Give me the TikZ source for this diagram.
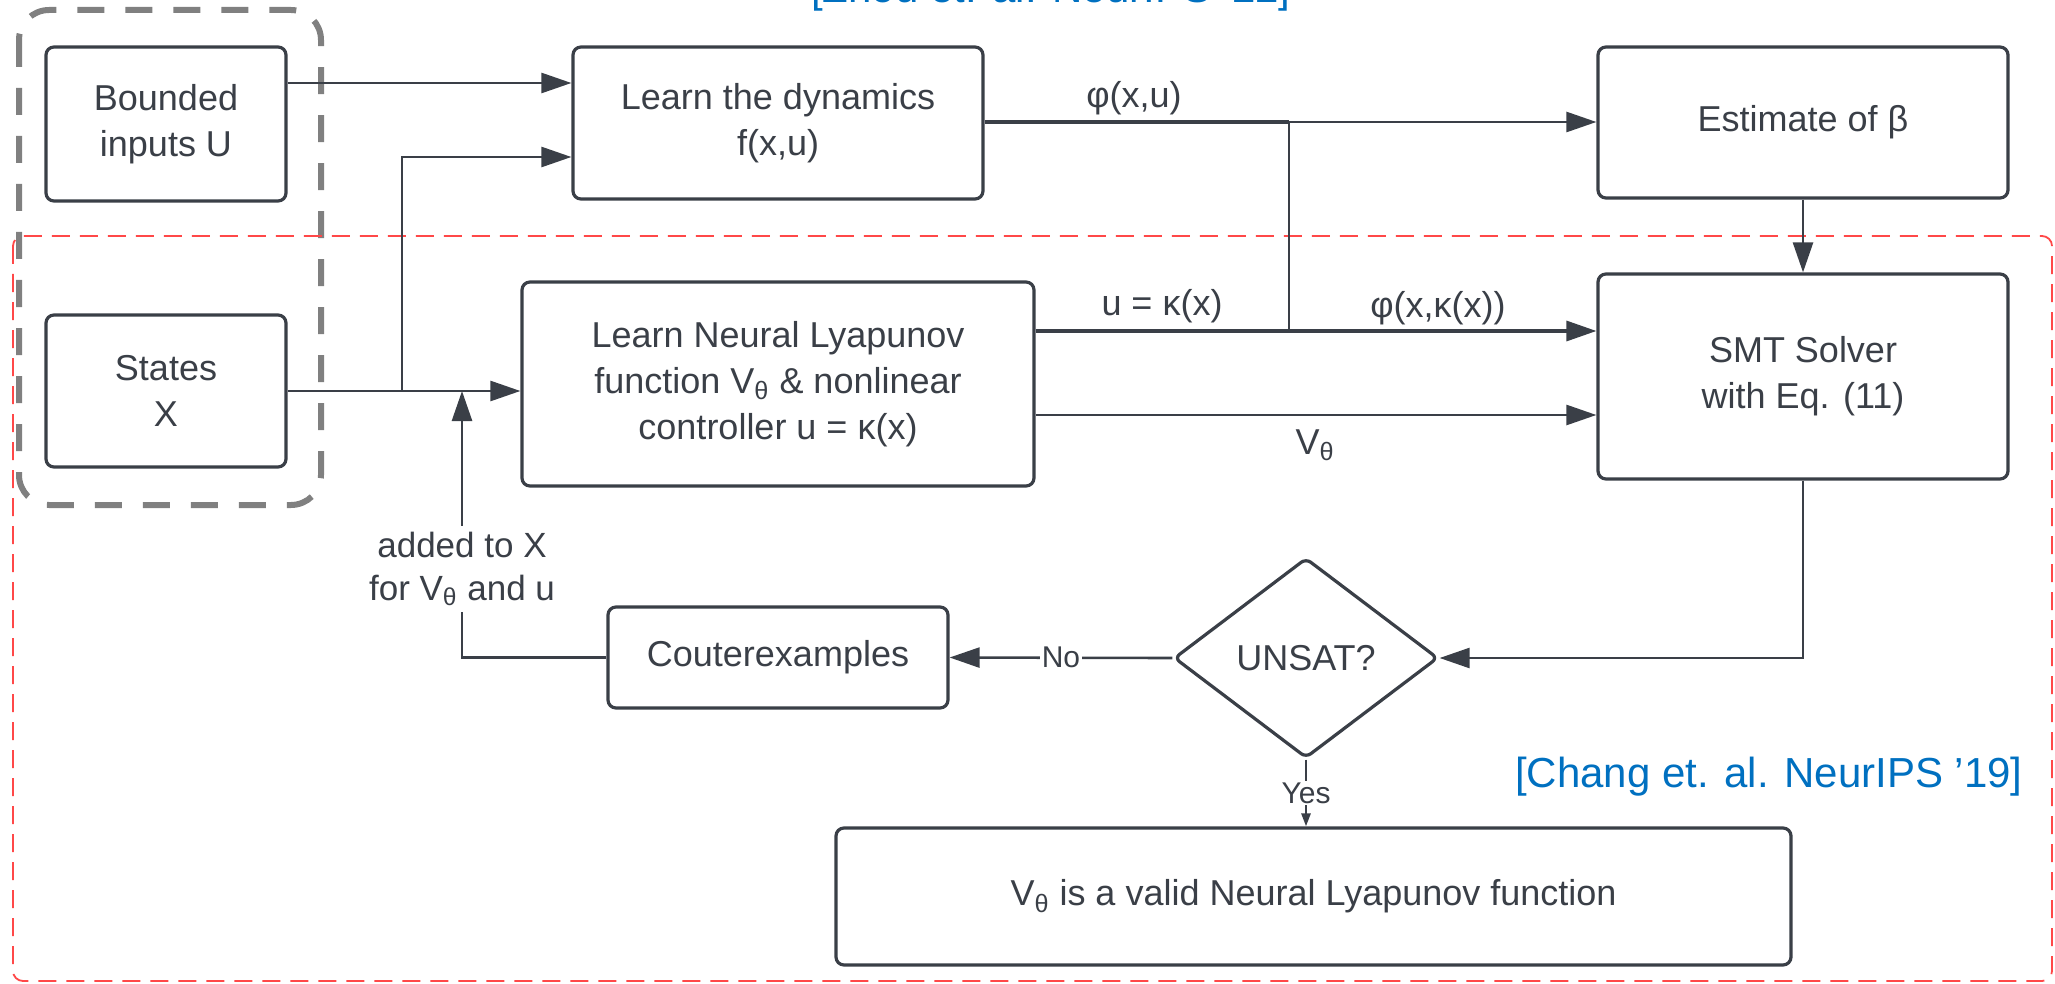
\documentclass[tikz,border=0pt]{standalone}
\usepackage{fontspec}
\setmainfont{Liberation Sans}
\usetikzlibrary{arrows.meta,shapes.geometric}
\definecolor{ink}{HTML}{3A3F47}
\definecolor{cite}{HTML}{0070C0}
\definecolor{grpgray}{HTML}{808080}
\definecolor{grpred}{HTML}{FF4848}
\newcommand{\vth}{V\textsubscript{θ}}
\begin{document}
\begin{tikzpicture}[x=0.5pt,y=-0.5pt,
  font=\fontsize{18}{23}\selectfont,
  box/.style={draw=ink, fill=white, line width=1.6pt, rounded corners=4pt,
    align=center, text=ink, inner sep=0pt},
  conn/.style={draw=ink, line width=1.3pt},
  arr/.style={conn, -{Triangle[length=15pt,width=10pt]}},
  smallarr/.style={conn, -{Triangle[length=6.5pt,width=4.5pt]}},
  lbl/.style={text=ink, inner sep=1pt},
  small/.style={font=\fontsize{15}{18}\selectfont},
  citefont/.style={text=cite, inner sep=0pt, font=\fontsize{21}{25}\selectfont},
]
\useasboundingbox (0,0) rectangle (2055,984);

% grouping frames
\draw[grpgray, line width=3pt, dash pattern=on 13.5pt off 10.5pt, rounded corners=15pt]
  (19,10) rectangle (321,505);
\draw[grpred, line width=0.9pt, dash pattern=on 9pt off 5pt, rounded corners=5pt]
  (13,236) rectangle (2052,981);

% citations
\node[citefont, anchor=base east] (zhou) at (1291,3) {[Zhou et. al. NeurIPS ’22]};
\node[citefont, anchor=base east] (chang) at (2023,787) {[Chang et. al. NeurIPS ’19]};

% blocks
\node[box, minimum width=120pt, minimum height=77pt] (bounded) at (166,124) {Bounded\\inputs U};
\node[box, minimum width=120pt, minimum height=76pt] (states) at (166,391) {States\\X};
\node[box, minimum width=205pt, minimum height=76pt] (dyn) at (778,123) {Learn the dynamics\\f(x,u)};
\node[box, minimum width=205pt, minimum height=75.5pt] (est) at (1803,122.5) {Estimate of β};
\node[box, minimum width=256pt, minimum height=102pt] (lyap) at (778,384)
  {Learn Neural Lyapunov\\function \vth{} \& nonlinear\\controller u = κ(x)};
\node[box, minimum width=205pt, minimum height=102.5pt] (smt) at (1803,376.5) {SMT Solver\\with Eq. (11)};
\node[box, minimum width=170pt, minimum height=50.5pt] (cex) at (778,657.5) {Couterexamples};
\node[box, diamond, rounded corners=3pt, minimum width=132pt, minimum height=100pt] (unsat) at (1306,658) {UNSAT?};
\node[box, minimum width=477.5pt, minimum height=68.5pt] (final) at (1313.5,896.5)
  {\vth{} is a valid Neural Lyapunov function};

% branch points
\coordinate (jx) at (402,391);
\coordinate (jphi) at (1289,122);
\coordinate (fb) at (462,391);

% connectors
\draw[arr] (bounded.east |- 0,83) -- (dyn.west |- 0,83);
\draw[conn] (states.east) -- (jx);
\draw[arr] (jx) -- (lyap.west |- jx);
\draw[arr] (jx) |- (dyn.west |- 0,157);
\draw[conn, line width=1.6pt] (dyn.east |- jphi) -- (jphi);
\draw[arr] (jphi) -- (est.west |- jphi);
\draw[conn] (jphi) -- (jphi |- 0,331);
\draw[conn, line width=1.6pt] (lyap.east |- 0,331) -- (jphi |- 0,331);
\draw[arr, line width=1.6pt] (jphi |- 0,331) -- (smt.west |- 0,331);
\draw[arr] (lyap.east |- 0,415) -- (smt.west |- 0,415);
\draw[arr] (est.south) -- (smt.north);
\draw[arr] (smt.south) |- (unsat.east);
\draw[arr] (unsat.west) -- node[lbl, small, fill=white] (no) {No} (cex.east);
\draw[smallarr] (unsat.south) -- node[lbl, small, fill=white] (yes) {Yes} (unsat.south |- final.north);
\draw[arr] (cex.west) -| (fb);

% connector labels
\node[lbl, anchor=base] (lphi) at (1134,108) {φ(x,u)};
\node[lbl, anchor=base] (lu) at (1162,315) {u = κ(x)};
\node[lbl, anchor=base] (lphik) at (1438,317) {φ(x,κ(x))};
\node[lbl] (lv) at (1315,445) {\vth};
\node[lbl, fill=white, align=center, inner sep=3pt, font=\fontsize{17.5}{21.5}\selectfont] (fbl) at (462,569)
  {added to X\\for \vth{} and u};
\end{tikzpicture}
\end{document}
